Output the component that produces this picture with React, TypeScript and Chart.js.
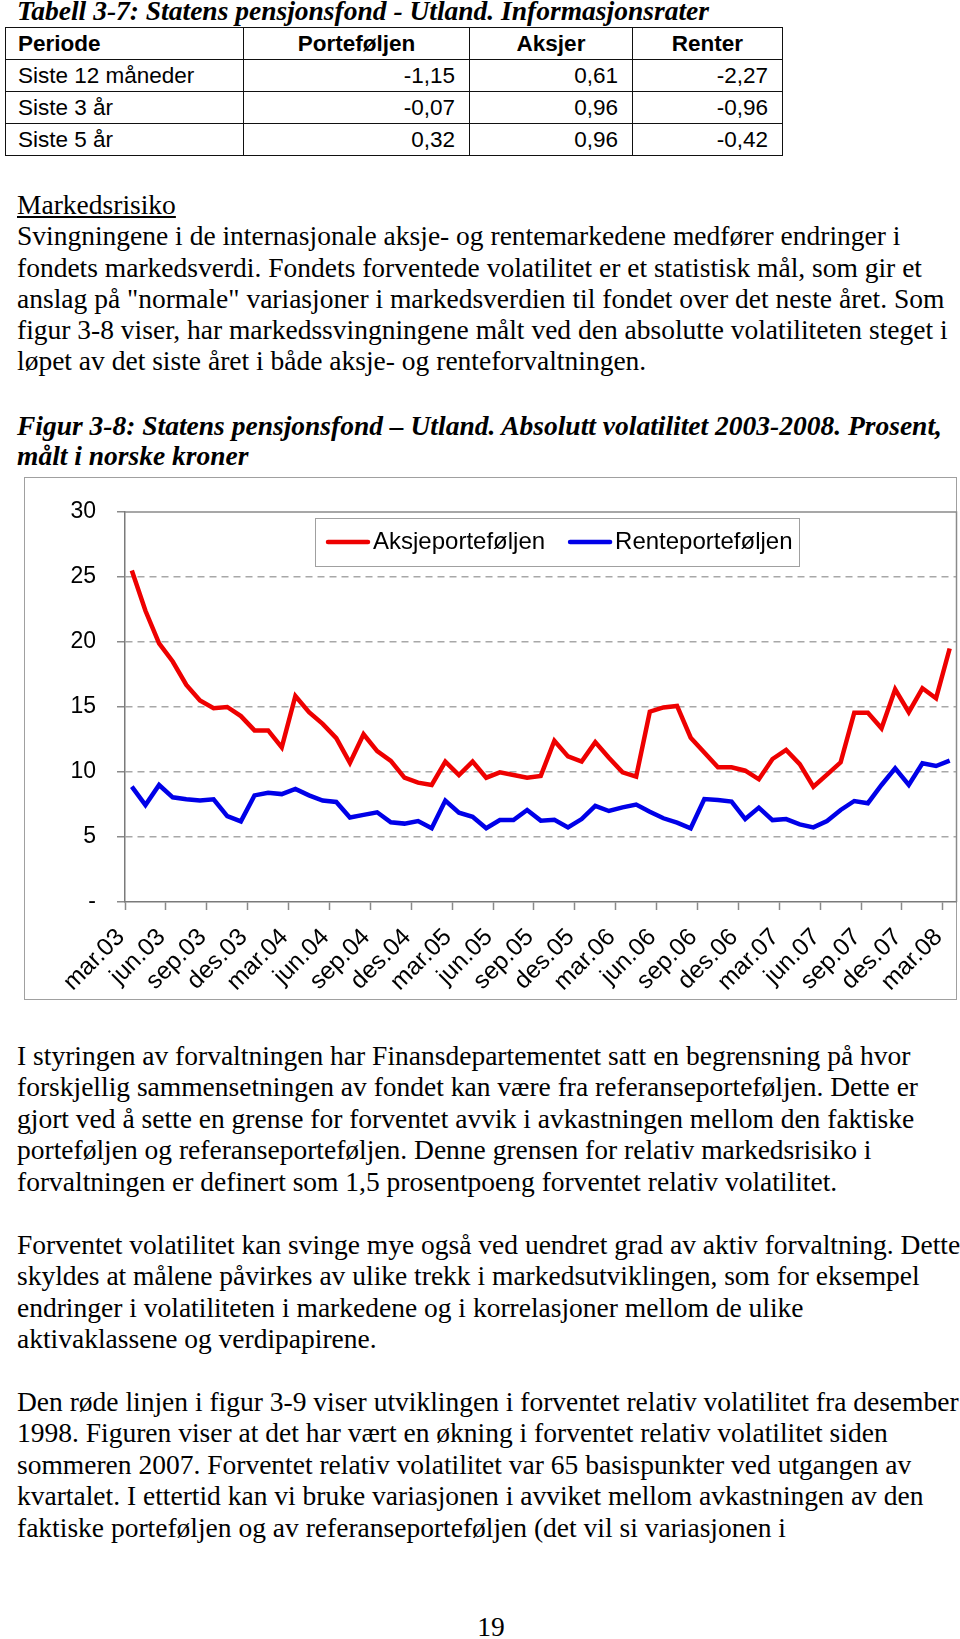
import React, { useEffect, useRef } from 'react';
import { Chart, registerables } from 'chart.js';

Chart.register(...registerables);

const months = [
  'mar.03', 'apr.03', 'mai.03', 'jun.03', 'jul.03', 'aug.03', 'sep.03', 'okt.03', 'nov.03', 'des.03',
  'jan.04', 'feb.04', 'mar.04', 'apr.04', 'mai.04', 'jun.04', 'jul.04', 'aug.04', 'sep.04', 'okt.04', 'nov.04', 'des.04',
  'jan.05', 'feb.05', 'mar.05', 'apr.05', 'mai.05', 'jun.05', 'jul.05', 'aug.05', 'sep.05', 'okt.05', 'nov.05', 'des.05',
  'jan.06', 'feb.06', 'mar.06', 'apr.06', 'mai.06', 'jun.06', 'jul.06', 'aug.06', 'sep.06', 'okt.06', 'nov.06', 'des.06',
  'jan.07', 'feb.07', 'mar.07', 'apr.07', 'mai.07', 'jun.07', 'jul.07', 'aug.07', 'sep.07', 'okt.07', 'nov.07', 'des.07',
  'jan.08', 'feb.08', 'mar.08',
];

const quarterLabels = [
  'mar.03', 'jun.03', 'sep.03', 'des.03', 'mar.04', 'jun.04', 'sep.04', 'des.04', 'mar.05', 'jun.05', 'sep.05',
  'des.05', 'mar.06', 'jun.06', 'sep.06', 'des.06', 'mar.07', 'jun.07', 'sep.07', 'des.07', 'mar.08',
];

const aksjeporteføljen = [
  25.5, 22.4, 19.9, 18.5, 16.7, 15.5, 14.9, 15.0, 14.3, 13.2,
  13.2, 11.9, 15.85, 14.6, 13.7, 12.6, 10.7, 12.9, 11.6, 10.85,
  9.56, 9.18, 9.0, 10.8, 9.77, 10.8, 9.56, 9.97, 9.77, 9.56,
  9.7, 12.4, 11.2, 10.8, 12.3, 11.1, 9.97, 9.64, 14.64, 14.97,
  15.08, 12.64, 11.5, 10.36, 10.36, 10.1, 9.44, 11.0, 11.7, 10.6,
  8.87, 9.8, 10.74, 14.56, 14.56, 13.36, 16.36, 14.6, 16.44, 15.67,
  19.5,
];

const renteporteføljen = [
  8.87, 7.46, 9.0, 8.05, 7.9, 7.8, 7.9, 6.6, 6.2, 8.2,
  8.4, 8.3, 8.7, 8.2, 7.8, 7.7, 6.5, 6.7, 6.9, 6.13,
  6.03, 6.23, 5.67, 7.8, 6.87, 6.56, 5.67, 6.3, 6.3, 7.08,
  6.26, 6.33, 5.74, 6.38, 7.4, 7.0, 7.28, 7.5, 6.95, 6.44,
  6.1, 5.67, 7.92, 7.85, 7.72, 6.38, 7.26, 6.3, 6.38, 5.97,
  5.74, 6.23, 7.08, 7.77, 7.6, 9.0, 10.28, 9.0, 10.67, 10.46,
  10.87,
];

const seriesNames = ['Aksjeporteføljen', 'Renteporteføljen'];
const seriesColors = ['rgb(238,0,0)', 'rgb(0,0,232)'];

const tableHeader = ['Periode', 'Porteføljen', 'Aksjer', 'Renter'];
const tableRows = [
  ['Siste 12 måneder', '-1,15', '0,61', '-2,27'],
  ['Siste 3 år', '-0,07', '0,96', '-0,96'],
  ['Siste 5 år', '0,32', '0,96', '-0,42'],
];

const para1 = [
  'Svingningene i de internasjonale aksje- og rentemarkedene medfører endringer i',
  'fondets markedsverdi. Fondets forventede volatilitet er et statistisk mål, som gir et',
  'anslag på "normale" variasjoner i markedsverdien til fondet over det neste året. Som',
  'figur 3-8 viser, har markedssvingningene målt ved den absolutte volatiliteten steget i',
  'løpet av det siste året i både aksje- og renteforvaltningen.',
];

const caption = [
  'Figur 3-8: Statens pensjonsfond – Utland. Absolutt volatilitet 2003-2008. Prosent,',
  'målt i norske kroner',
];

const para2 = [
  'I styringen av forvaltningen har Finansdepartementet satt en begrensning på hvor',
  'forskjellig sammensetningen av fondet kan være fra referanseporteføljen. Dette er',
  'gjort ved å sette en grense for forventet avvik i avkastningen mellom den faktiske',
  'porteføljen og referanseporteføljen. Denne grensen for relativ markedsrisiko i',
  'forvaltningen er definert som 1,5 prosentpoeng forventet relativ volatilitet.',
  '',
  'Forventet volatilitet kan svinge mye også ved uendret grad av aktiv forvaltning. Dette',
  'skyldes at målene påvirkes av ulike trekk i markedsutviklingen, som for eksempel',
  'endringer i volatiliteten i markedene og i korrelasjoner mellom de ulike',
  'aktivaklassene og verdipapirene.',
  '',
  'Den røde linjen i figur 3-9 viser utviklingen i forventet relativ volatilitet fra desember',
  '1998. Figuren viser at det har vært en økning i forventet relativ volatilitet siden',
  'sommeren 2007. Forventet relativ volatilitet var 65 basispunkter ved utgangen av',
  'kvartalet. I ettertid kan vi bruke variasjonen i avviket mellom avkastningen av den',
  'faktiske porteføljen og av referanseporteføljen (det vil si variasjonen i',
];

const serif = '"Liberation Serif", "Times New Roman", serif';
const sans = '"Liberation Sans", Arial, sans-serif';

function Lines(props: { top: number; left: number; lh: number; size: number; lines: string[]; style?: React.CSSProperties }) {
  return (
    <div
      style={{
        position: 'absolute',
        top: props.top,
        left: props.left,
        lineHeight: props.lh + 'px',
        fontSize: props.size,
        fontFamily: serif,
        whiteSpace: 'nowrap',
        color: '#000',
        ...(props.style || {}),
      }}
    >
      {props.lines.map((l, i) => (
        <div key={i} style={{ height: props.lh }}>{l === '' ? '\u00a0' : l}</div>
      ))}
    </div>
  );
}

const framePlugin = {
  id: 'frameAndLegend',
  afterDraw(chart: any) {
    const { ctx, chartArea } = chart;
    ctx.save();
    ctx.strokeStyle = '#8a8a8a';
    ctx.lineWidth = 1.5;
    ctx.beginPath();
    ctx.moveTo(chartArea.left, chartArea.top);
    ctx.lineTo(chartArea.right, chartArea.top);
    ctx.lineTo(chartArea.right, chartArea.bottom);
    ctx.stroke();

    // legend box
    const bx = 291, by = 41, bw = 484, bh = 48;
    ctx.fillStyle = '#fff';
    ctx.fillRect(bx, by, bw, bh);
    ctx.strokeStyle = '#a0a0a0';
    ctx.lineWidth = 1;
    ctx.strokeRect(bx + 0.5, by + 0.5, bw, bh);
    ctx.font = '24px ' + sans;
    ctx.textBaseline = 'middle';
    ctx.textAlign = 'left';
    let x = bx + 13;
    const y = by + 24;
    chart.data.datasets.forEach((ds: any) => {
      ctx.strokeStyle = ds.borderColor;
      ctx.lineWidth = 4.5;
      ctx.lineCap = 'round';
      ctx.beginPath();
      ctx.moveTo(x, y);
      ctx.lineTo(x + 40, y);
      ctx.stroke();
      x += 45;
      ctx.fillStyle = '#000';
      ctx.fillText(ds.label, x, y);
      x += ctx.measureText(ds.label).width + 25;
    });
    ctx.restore();
  },
};

function VolChart() {
  const ref = useRef<HTMLCanvasElement | null>(null);
  useEffect(() => {
    if (!ref.current) return;
    const chart = new Chart(ref.current, {
      type: 'line',
      data: {
        labels: months,
        datasets: [
          {
            label: seriesNames[0],
            data: aksjeporteføljen,
            borderColor: seriesColors[0],
            backgroundColor: seriesColors[0],
            borderWidth: 4.5,
            pointRadius: 0,
            tension: 0,
          },
          {
            label: seriesNames[1],
            data: renteporteføljen,
            borderColor: seriesColors[1],
            backgroundColor: seriesColors[1],
            borderWidth: 4.5,
            pointRadius: 0,
            tension: 0,
          },
        ],
      },
      options: {
        animation: false,
        responsive: false,
        maintainAspectRatio: false,
        layout: { padding: { top: 35, right: 1.5, left: 0, bottom: 0 } },
        plugins: { legend: { display: false }, tooltip: { enabled: false } },
        scales: {
          x: {
            type: 'category',
            offset: true,
            grid: {
              offset: true,
              drawOnChartArea: false,
              drawTicks: true,
              tickLength: 8,
              tickWidth: 1.5,
              tickColor: (c: any) => (c.index % 3 === 0 ? '#8a8a8a' : 'rgba(0,0,0,0)'),
            },
            border: { display: true, color: '#7a7a7a', width: 1.5 },
            ticks: {
              autoSkip: false,
              minRotation: 45,
              maxRotation: 45,
              padding: 13,
              labelOffset: -11,
              color: '#000',
              font: { family: sans, size: 24.5 },
              callback: (_v: any, i: number) => (i % 3 === 0 ? quarterLabels[i / 3] : ''),
            },
            afterFit: (s: any) => {
              s.height = 98;
              s.paddingLeft = 0;
              s.paddingRight = 0;
            },
          },
          y: {
            min: 0,
            max: 30,
            ticks: {
              stepSize: 5,
              padding: 21,
              color: '#000',
              font: { family: sans, size: 23 },
              callback: (v: any) => (v === 0 ? '-' : String(v)),
            },
            grid: {
              color: (c: any) => (c.tick && (c.tick.value === 0 || c.tick.value === 30) ? 'rgba(0,0,0,0)' : '#a8a8a8'),
              lineWidth: 1.5,
              tickLength: 8,
              tickColor: '#8a8a8a',
              tickBorderDash: [1, 0],
            },
            border: { display: true, color: '#7a7a7a', width: 1.5, dash: [7, 5] },
            afterFit: (s: any) => {
              s.width = 101;
              s.paddingTop = 0;
              s.paddingBottom = 0;
            },
          },
        },
      },
      plugins: [framePlugin],
    } as any);
    return () => chart.destroy();
  }, []);
  return (
    <div
      style={{
        position: 'absolute',
        left: 24,
        top: 477,
        width: 933,
        height: 523,
        boxSizing: 'border-box',
        border: '1.5px solid #a0a0a0',
      }}
    >
      <canvas ref={ref} width={934} height={523} style={{ position: 'absolute', left: -1.5, top: -1.5, width: 934, height: 523 }} />
    </div>
  );
}

function DataTable() {
  const widths = [238, 226, 163, 150];
  const cell = (i: number, header: boolean): React.CSSProperties => ({
    width: widths[i],
    height: 31,
    padding: 0,
    paddingLeft: i === 0 ? 12 : 0,
    paddingRight: i === 0 ? 0 : 14,
    border: '1.5px solid #111',
    textAlign: i === 0 ? 'left' : header ? 'center' : 'right',
    fontWeight: header ? 'bold' : 'normal',
    verticalAlign: 'middle',
    boxSizing: 'border-box',
  });
  return (
    <table
      style={{
        position: 'absolute',
        left: 5,
        top: 27,
        width: 777,
        borderCollapse: 'collapse',
        tableLayout: 'fixed',
        fontFamily: sans,
        fontSize: 22.5,
        lineHeight: '26px',
        color: '#000',
      }}
    >
      <tbody>
        <tr style={{ height: 32 }}>
          {tableHeader.map((h, i) => (
            <td key={i} style={{ ...cell(i, true), paddingRight: 0, paddingLeft: i === 0 ? 12 : 0 }}>{h}</td>
          ))}
        </tr>
        {tableRows.map((r, ri) => (
          <tr key={ri} style={{ height: 32 }}>
            {r.map((v, i) => (
              <td key={i} style={cell(i, false)}>{v}</td>
            ))}
          </tr>
        ))}
      </tbody>
    </table>
  );
}

export default function App() {
  return (
    <div style={{ position: 'absolute', left: 0, top: 0, width: 960, height: 1639, background: '#fff', overflow: 'hidden' }}>
      <Lines
        top={-5}
        left={17}
        lh={31.5}
        size={27.5}
        lines={['Tabell 3-7: Statens pensjonsfond - Utland. Informasjonsrater']}
        style={{ fontWeight: 'bold', fontStyle: 'italic' }}
      />
      <DataTable />
      <div style={{ position: 'absolute', top: 189, left: 17, lineHeight: '31.3px', fontSize: 27.5, fontFamily: serif, textDecoration: 'underline', whiteSpace: 'nowrap' }}>
        Markedsrisiko
      </div>
      <Lines top={189 + 31.3} left={17} lh={31.3} size={27.5} lines={para1} />
      <Lines top={410.5} left={17} lh={30.5} size={27.5} lines={caption} style={{ fontWeight: 'bold', fontStyle: 'italic' }} />
      <VolChart />
      <Lines top={1040} left={17} lh={31.45} size={27.5} lines={para2} />
      <div style={{ position: 'absolute', top: 1611, left: 461, width: 60, textAlign: 'center', lineHeight: '31.5px', fontSize: 27.5, fontFamily: serif }}>
        19
      </div>
    </div>
  );
}
